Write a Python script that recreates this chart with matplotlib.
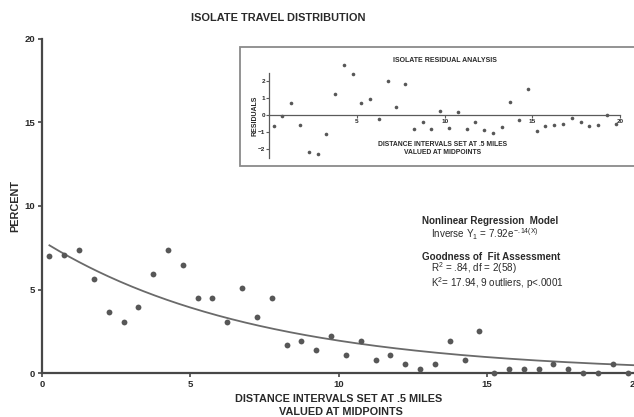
import numpy as np
import matplotlib
matplotlib.use("Agg")
import matplotlib.pyplot as plt
from matplotlib.patches import Rectangle

plt.rcParams["font.family"] = ["Liberation Sans", "DejaVu Sans"]
plt.rcParams["mathtext.fontset"] = "custom"
plt.rcParams["mathtext.rm"] = "Liberation Sans"
plt.rcParams["mathtext.it"] = "Liberation Sans"
plt.rcParams["mathtext.bf"] = "Liberation Sans:bold"

# Distance interval midpoints (miles) and percent of isolates per interval
distance = [0.25, 0.75, 1.25, 1.75, 2.25, 2.75, 3.25, 3.75, 4.25, 4.75,
            5.25, 5.75, 6.25, 6.75, 7.25, 7.75, 8.25, 8.75, 9.25, 9.75,
            10.25, 10.75, 11.25, 11.75, 12.25, 12.75, 13.25, 13.75, 14.25, 14.75,
            15.25, 15.75, 16.25, 16.75, 17.25, 17.75, 18.25, 18.75, 19.25, 19.75]
percent = [7.00, 7.07, 7.35, 5.65, 3.65, 3.09, 3.94, 5.93, 7.35, 6.49,
           4.52, 4.52, 3.09, 5.08, 3.36, 4.52, 1.67, 1.95, 1.39, 2.25,
           1.11, 1.95, 0.81, 1.11, 0.54, 0.26, 0.54, 1.95, 0.81, 2.53,
           0.00, 0.26, 0.26, 0.26, 0.54, 0.26, 0.00, 0.00, 0.54, 0.00]

# Fitted inverse exponential model Y = a * exp(-b X)
model_a = 7.92
model_b = 0.14

x_ticks = [0, 5, 10, 15, 20]
y_ticks = [0, 5, 10, 15, 20]
res_x_ticks = [5, 10, 15, 20]
res_y_ticks = [-2, -1, 0, 1, 2]

W, H = 634, 417
fig = plt.figure(figsize=(W / 100, H / 100), dpi=100)
fig.patch.set_facecolor("white")

def fx(px):
    return px / W

def fy(py):
    return 1 - py / H

axis_col = "#474747"
pt_col = "#575757"
txt_col = "#2a2a2a"

# ---- main panel ----
ax = fig.add_axes([fx(42), fy(373.3), fx(635) - fx(42), fy(38.6) - fy(373.3)])
ax.set_xlim(0, 20)
ax.set_ylim(0, 20)
for s in ("top", "right"):
    ax.spines[s].set_visible(False)
for s in ("left", "bottom"):
    ax.spines[s].set_linewidth(1.6)
    ax.spines[s].set_color(axis_col)
    ax.spines[s].set_clip_on(False)
ax.set_xticks(x_ticks)
ax.set_yticks(y_ticks)
ax.tick_params(axis="both", direction="out", length=3, width=1.2, color=axis_col,
               labelsize=6.8, labelcolor=txt_col, pad=2)
for lab in ax.get_xticklabels() + ax.get_yticklabels():
    lab.set_fontweight("bold")

xd = np.array(distance)
yd = np.array(percent)
xf = np.linspace(distance[0], 20, 300)
ax.plot(xf, model_a * np.exp(-model_b * xf), color="#6a6a6a", lw=1.3, zorder=2)
ax.plot(xd, yd, "o", ms=4.2, color=pt_col, mec="none", zorder=3, clip_on=False)

fig.text(fx(278.5), fy(18), "ISOLATE TRAVEL DISTRIBUTION", ha="center", va="center",
         fontsize=7.9, fontweight="bold", color=txt_col)
fig.text(fx(15), fy(206), "PERCENT", ha="center", va="center", rotation=90,
         fontsize=7.8, fontweight="bold", color=txt_col)
fig.text(fx(339), fy(399), "DISTANCE INTERVALS SET AT .5 MILES", ha="center", va="center",
         fontsize=7.8, fontweight="bold", color=txt_col)
fig.text(fx(341), fy(412), "VALUED AT MIDPOINTS", ha="center", va="center",
         fontsize=7.8, fontweight="bold", color=txt_col)

# model annotation
ann_fs = 7.1
fig.text(fx(422.5), fy(221.5), "Nonlinear Regression  Model", ha="left", va="center",
         fontsize=ann_fs, fontweight="bold", color=txt_col)
fig.text(fx(431), fy(234), r"Inverse Y$_1$ = 7.92e$^{-.14(X)}$", ha="left", va="center",
         fontsize=ann_fs, color=txt_col)
fig.text(fx(422.5), fy(256.5), "Goodness of  Fit Assessment", ha="left", va="center",
         fontsize=ann_fs, fontweight="bold", color=txt_col)
fig.text(fx(431), fy(268.5), r"R$^2$ = .84, df = 2(58)", ha="left", va="center",
         fontsize=ann_fs, color=txt_col)
fig.text(fx(431), fy(283), r"K$^2$= 17.94, 9 outliers, p<.0001", ha="left", va="center",
         fontsize=ann_fs, color=txt_col)

# ---- residual inset ----
fig.patches.append(Rectangle((fx(240.5), fy(166)), fx(660) - fx(240.5), fy(46.5) - fy(166),
                             transform=fig.transFigure, fill=True, facecolor="white",
                             edgecolor="#8a8a8a", lw=1.3, zorder=5))

res = yd - model_a * np.exp(-model_b * xd)

ax2 = fig.add_axes([fx(269.3), fy(157.8), fx(620) - fx(269.3), fy(72.8) - fy(157.8)])
ax2.set_zorder(6)
ax2.patch.set_visible(False)
ax2.set_xlim(0, 20)
ax2.set_ylim(-2.5, 2.5)
ax2.spines["top"].set_visible(False)
ax2.spines["right"].set_visible(False)
ax2.spines["bottom"].set_position(("data", 0))
for s in ("left", "bottom"):
    ax2.spines[s].set_linewidth(0.9)
    ax2.spines[s].set_color("#5a5a5a")
ax2.set_xticks(res_x_ticks)
ax2.set_yticks(res_y_ticks)
ax2.tick_params(axis="both", direction="out", length=2, width=0.8, color="#5a5a5a",
                labelsize=4.6, labelcolor=txt_col, pad=1)
for lab in ax2.get_xticklabels() + ax2.get_yticklabels():
    lab.set_fontweight("bold")
ax2.plot(xd, res, "o", ms=2.6, color=pt_col, mec="none", clip_on=False)

fig.text(fx(444.7), fy(60), "ISOLATE RESIDUAL ANALYSIS", ha="center", va="center",
         fontsize=5.0, fontweight="bold", color=txt_col, zorder=7)
fig.text(fx(255), fy(116), "RESIDUALS", ha="center", va="center", rotation=90,
         fontsize=5.0, fontweight="bold", color=txt_col, zorder=7)
fig.text(fx(443), fy(145), "DISTANCE INTERVALS SET AT .5 MILES", ha="center", va="center",
         fontsize=4.9, fontweight="bold", color=txt_col, zorder=7)
fig.text(fx(443), fy(153), "VALUED AT MIDPOINTS", ha="center", va="center",
         fontsize=4.9, fontweight="bold", color=txt_col, zorder=7)

fig.savefig("out.png", dpi=100, facecolor="white")
